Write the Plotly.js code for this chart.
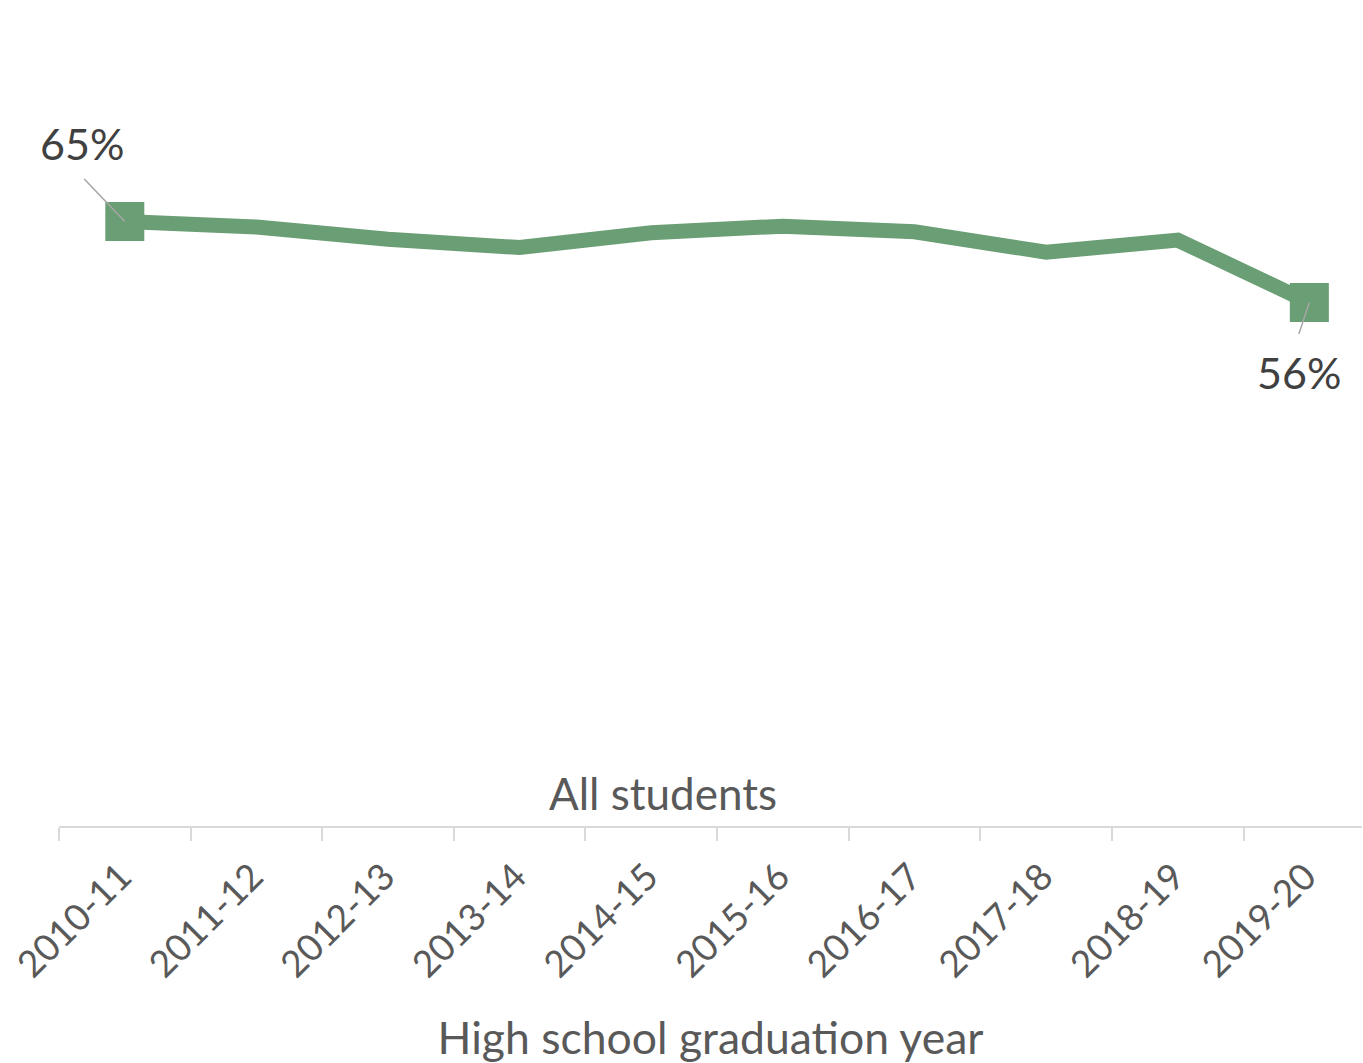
<!DOCTYPE html>
<html>
<head>
<meta charset="utf-8">
<script src="https://cdn.plot.ly/plotly-3.0.1.min.js"></script>
<style>html,body{margin:0;padding:0;background:#fff;}#chart{width:1363px;height:1063px;}</style>
</head>
<body>
<div id="chart"></div>
<script>
const years = ["2010-11","2011-12","2012-13","2013-14","2014-15","2015-16","2016-17","2017-18","2018-19","2019-20"];
const rate = [0.650, 0.644, 0.631, 0.622, 0.638, 0.645, 0.639, 0.617, 0.630, 0.563];
const groupLabel = "All students";
const xTitle = "High school graduation year";

const lineColor = "#6a9e74";
const fontFam = "Lato, 'Open Sans', sans-serif";
const last = rate.length - 1;
const endX = [years[0], years[last]];
const endY = [rate[0], rate[last]];
const fmt = v => Math.round(v * 100) + "%";

const lineTrace = {
  type: "scatter",
  mode: "lines",
  x: years,
  y: rate,
  line: {color: lineColor, width: 15, shape: "linear"},
  cliponaxis: false,
  hoverinfo: "skip",
  showlegend: false
};
const endTrace = {
  type: "scatter",
  mode: "markers",
  x: endX,
  y: endY,
  marker: {symbol: "square", size: 34, color: lineColor, opacity: 1, line: {width: 5, color: lineColor}},
  opacity: 1,
  cliponaxis: false,
  hoverinfo: "skip",
  showlegend: false
};

const layout = {
  width: 1363, height: 1063,
  margin: {l: 59, r: 1, t: 0, b: 237, pad: 0},
  paper_bgcolor: "#ffffff",
  plot_bgcolor: "#ffffff",
  font: {family: fontFam, color: "#595959"},
  xaxis: {
    type: "category",
    range: [-0.5, 9.4],
    showgrid: false,
    zeroline: false,
    showline: true,
    linecolor: "#d9d9d9",
    linewidth: 2,
    ticks: "outside",
    tickson: "boundaries",
    ticklen: 13,
    tickwidth: 2,
    tickcolor: "#d9d9d9",
    tickangle: -45,
    ticklabelstandoff: 12,
    ticklabelshift: -4,
    tickfont: {family: fontFam, size: 37, color: "#595959"},
    title: {text: xTitle, font: {family: fontFam, size: 44.5, color: "#595959"}, standoff: 40},
    fixedrange: true
  },
  yaxis: {
    range: [0, 0.8882],
    visible: false,
    fixedrange: true
  },
  annotations: [
    {x: years[0], y: rate[0], xref: "x", yref: "y", text: "", showarrow: true, arrowhead: 0, arrowwidth: 1.5, arrowcolor: "#a6a6a6", ax: -42, ay: -44, standoff: 0},
    {x: years[0], y: rate[0], xref: "x", yref: "y", text: fmt(rate[0]), showarrow: false, xshift: -43, yshift: 78, font: {family: fontFam, size: 43, color: "#404040"}},
    {x: years[last], y: rate[last], xref: "x", yref: "y", text: "", showarrow: true, arrowhead: 0, arrowwidth: 1.5, arrowcolor: "#a6a6a6", ax: -11, ay: 33, standoff: 0},
    {x: years[last], y: rate[last], xref: "x", yref: "y", text: fmt(rate[last]), showarrow: false, xshift: -10, yshift: -70, font: {family: fontFam, size: 43, color: "#404040"}},
    {x: 0.4635, y: 0.04, xref: "paper", yref: "paper", text: groupLabel, showarrow: false, xanchor: "center", yanchor: "middle", font: {family: fontFam, size: 44, color: "#595959"}}
  ]
};

Plotly.newPlot("chart", [lineTrace, endTrace], layout, {displayModeBar: false, staticPlot: true});
</script>
</body>
</html>
